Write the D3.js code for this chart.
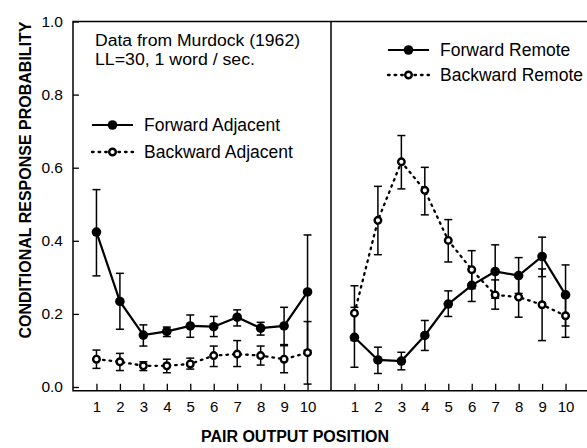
<!DOCTYPE html>
<meta charset="utf-8">
<html>
  <head>
    <title>crp-murdock</title>
    <script src="https://d3js.org/d3.v7.min.js"></script>
    <style>
      body { margin: 0; background: #fff; }
      text { font-family: "Liberation Sans", Arial, sans-serif; fill: #000; }
    </style>
  </head>
  <body>
    <div id="chart"></div>
    <script type="text/javascript">
        /* data */
        var positions = [1, 2, 3, 4, 5, 6, 7, 8, 9, 10];
        var yTicks = [0, 0.2, 0.4, 0.6, 0.8, 1.0];

        var fwdAdj   = [0.424, 0.234, 0.142, 0.152, 0.167, 0.165, 0.191, 0.161, 0.167, 0.260];
        var fwdAdjLo = [0.304, 0.158, 0.112, 0.138, 0.136, 0.138, 0.167, 0.142, 0.116, 0.100];
        var fwdAdjHi = [0.540, 0.311, 0.170, 0.164, 0.197, 0.193, 0.211, 0.177, 0.218, 0.416];

        var bwdAdj   = [0.076, 0.069, 0.058, 0.058, 0.063, 0.086, 0.090, 0.086, 0.076, 0.094];
        var bwdAdjLo = [0.051, 0.045, 0.045, 0.039, 0.049, 0.056, 0.056, 0.060, 0.039, 0.008];
        var bwdAdjHi = [0.101, 0.092, 0.069, 0.076, 0.079, 0.112, 0.127, 0.112, 0.113, 0.179];

        var fwdRem   = [0.136, 0.074, 0.071, 0.141, 0.227, 0.278, 0.316, 0.305, 0.357, 0.252];
        var fwdRemLo = [0.054, 0.037, 0.047, 0.100, 0.193, 0.234, 0.243, 0.256, 0.302, 0.167];
        var fwdRemHi = [0.218, 0.109, 0.095, 0.182, 0.263, 0.322, 0.389, 0.354, 0.410, 0.334];

        var bwdRem   = [0.202, 0.456, 0.616, 0.538, 0.401, 0.321, 0.252, 0.246, 0.225, 0.195];
        var bwdRemLo = [0.127, 0.362, 0.542, 0.471, 0.342, 0.269, 0.213, 0.191, 0.127, 0.136];
        var bwdRemHi = [0.277, 0.549, 0.688, 0.601, 0.458, 0.373, 0.293, 0.301, 0.323, 0.254];

        var noteLines = ["Data from Murdock (1962)", "LL=30, 1 word / sec."];

        /* layout */
        var total_width = 587, total_height = 448;
        var left = 73, mid = 331, right = 589;

        var svg = d3.select("#chart").append("svg")
            .attr("width", total_width)
            .attr("height", total_height);

        var y = d3.scaleLinear().domain([0, 1]).range([387, 21.5]);
        var xL = d3.scaleLinear().domain([0, 11]).range([left, mid]);
        var xR = d3.scaleLinear().domain([0, 11]).range([mid, right]);
        var bottom = y(-0.0105);

        function rows(vals, lo, hi) {
            return positions.map(function(p, i) { return {pos: p, v: vals[i], lo: lo[i], hi: hi[i]}; });
        }

        /* frame */
        svg.append("path")
            .attr("d", "M" + right + "," + y(1) + "H" + left + "V" + bottom + "H" + right)
            .attr("fill", "none").attr("stroke", "#000").attr("stroke-width", 1.5);
        svg.append("line")
            .attr("x1", mid).attr("x2", mid).attr("y1", y(1)).attr("y2", bottom)
            .attr("stroke", "#000").attr("stroke-width", 1.5);

        /* y axis */
        var yAxis = d3.axisLeft(y).tickValues(yTicks).tickFormat(d3.format(".1f"))
            .tickSizeInner(-6).tickSizeOuter(0).tickPadding(10);
        var gy = svg.append("g").attr("transform", "translate(" + left + ",0)").call(yAxis);
        gy.select(".domain").remove();
        gy.selectAll("text").style("font-size", "15.5px");
        gy.selectAll("line").attr("stroke-width", 1.3);

        /* x axes, ticks pointing up */
        [xL, xR].forEach(function(xs) {
            var ax = d3.axisBottom(xs).tickValues(positions).tickFormat(d3.format("d"))
                .tickSizeInner(-7).tickSizeOuter(0).tickPadding(11);
            var g = svg.append("g").attr("transform", "translate(0," + bottom + ")").call(ax);
            g.select(".domain").remove();
            g.selectAll("text").style("font-size", "15px");
            g.selectAll("line").attr("stroke-width", 1.3);
        });

        /* axis titles */
        svg.append("text")
            .attr("transform", "translate(31,180) rotate(-90)")
            .attr("text-anchor", "middle")
            .style("font-size", "16px").style("font-weight", "bold")
            .text("CONDITIONAL RESPONSE PROBABILITY");
        svg.append("text")
            .attr("x", 295).attr("y", 442)
            .attr("text-anchor", "middle")
            .style("font-size", "16px").style("font-weight", "bold")
            .text("PAIR OUTPUT POSITION");

        /* series drawing */
        function drawSeries(xs, data, filled) {
            var line = d3.line()
                .x(function(d) { return xs(d.pos); })
                .y(function(d) { return y(d.v); });
            svg.append("path")
                .attr("d", line(data))
                .attr("fill", "none")
                .attr("stroke", "#000")
                .attr("stroke-width", filled ? 2.2 : 2.3)
                .attr("stroke-dasharray", filled ? null : "1.6,5")
                .attr("stroke-linecap", filled ? "butt" : "round");

            var eb = svg.append("g").selectAll("g").data(data).enter().append("g");
            eb.append("line")
                .attr("x1", function(d) { return xs(d.pos); })
                .attr("x2", function(d) { return xs(d.pos); })
                .attr("y1", function(d) { return y(d.lo); })
                .attr("y2", function(d) { return y(d.hi); });
            eb.append("line")
                .attr("x1", function(d) { return xs(d.pos) - 4; })
                .attr("x2", function(d) { return xs(d.pos) + 4; })
                .attr("y1", function(d) { return y(d.hi); })
                .attr("y2", function(d) { return y(d.hi); });
            eb.append("line")
                .attr("x1", function(d) { return xs(d.pos) - 4; })
                .attr("x2", function(d) { return xs(d.pos) + 4; })
                .attr("y1", function(d) { return y(d.lo); })
                .attr("y2", function(d) { return y(d.lo); });
            eb.selectAll("line").attr("stroke", "#000").attr("stroke-width", 1.5);
        }

        function drawMarkers(xs, data, filled) {
            svg.append("g").selectAll("circle").data(data).enter().append("circle")
                .attr("cx", function(d) { return xs(d.pos); })
                .attr("cy", function(d) { return y(d.v); })
                .attr("r", filled ? 4.8 : 3.3)
                .attr("fill", filled ? "#000" : "#fff")
                .attr("stroke", "#000")
                .attr("stroke-width", filled ? 0 : 2.4);
        }

        var fa = rows(fwdAdj, fwdAdjLo, fwdAdjHi),
            ba = rows(bwdAdj, bwdAdjLo, bwdAdjHi),
            fr = rows(fwdRem, fwdRemLo, fwdRemHi),
            br = rows(bwdRem, bwdRemLo, bwdRemHi);

        drawSeries(xL, ba, false);
        drawSeries(xL, fa, true);
        drawSeries(xR, br, false);
        drawSeries(xR, fr, true);
        drawMarkers(xL, ba, false);
        drawMarkers(xL, fa, true);
        drawMarkers(xR, br, false);
        drawMarkers(xR, fr, true);

        /* annotation, stretched sideways like the scanned original */
        var noteWidths = [205, 160];
        noteLines.forEach(function(t, i) {
            svg.append("text").attr("x", 95).attr("y", 46 + i * 18.5)
                .attr("textLength", noteWidths[i])
                .attr("lengthAdjust", "spacingAndGlyphs")
                .style("font-size", "16px").text(t);
        });

        /* legends */
        function legendItem(x0, yy, label, filled) {
            svg.append("line")
                .attr("x1", x0).attr("x2", x0 + 41).attr("y1", yy).attr("y2", yy)
                .attr("stroke", "#000").attr("stroke-width", filled ? 2.2 : 2.3)
                .attr("stroke-dasharray", filled ? null : "1.6,5")
                .attr("stroke-linecap", filled ? "butt" : "round");
            svg.append("circle")
                .attr("cx", x0 + 20.5).attr("cy", yy)
                .attr("r", filled ? 4.8 : 3.3)
                .attr("fill", filled ? "#000" : "#fff")
                .attr("stroke", "#000").attr("stroke-width", filled ? 0 : 2.4);
            svg.append("text").attr("x", x0 + 52).attr("y", yy + 6)
                .style("font-size", "17.5px").text(label);
        }
        legendItem(92, 125, "Forward Adjacent", true);
        legendItem(92, 152, "Backward Adjacent", false);
        legendItem(388, 50, "Forward Remote", true);
        legendItem(388, 75, "Backward Remote", false);
    </script>
  </body>
</html>
